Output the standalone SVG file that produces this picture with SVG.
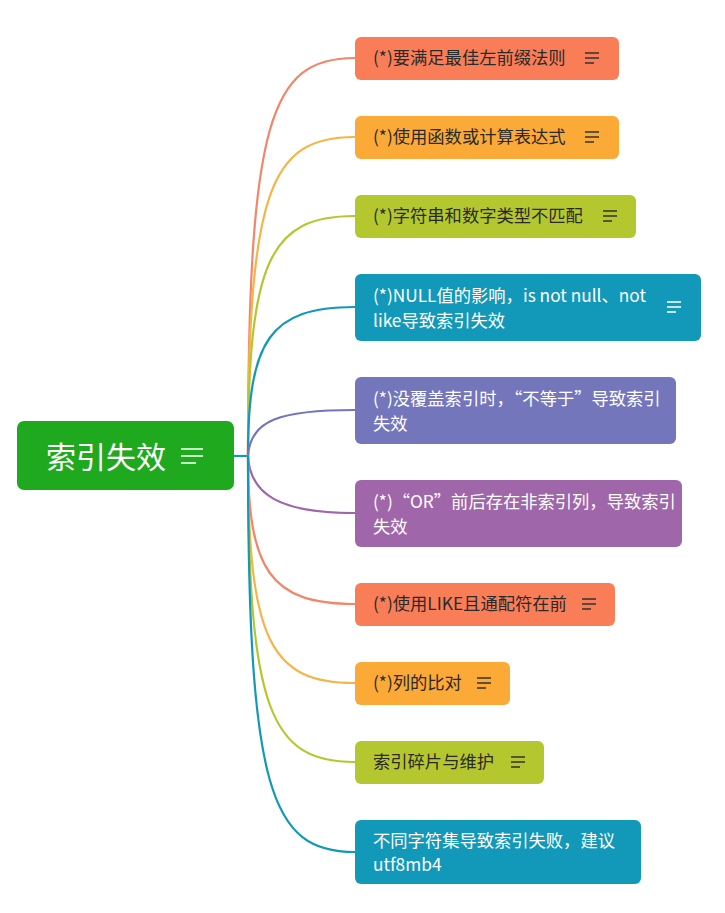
<svg xmlns="http://www.w3.org/2000/svg" width="725" height="913" viewBox="0 0 725 913">
<style>
.t{font-family:"Noto Sans CJK SC","Liberation Sans",sans-serif;font-size:17.3px;fill:#2a2a2a}
.w{fill:#ffffff}
.c{fill:none;stroke-width:2.2}
.m{stroke:#333;stroke-width:1.6;fill:none}
.mw{stroke:#fff;stroke-width:1.6;fill:none}
</style>
<rect width="725" height="913" fill="#fff"/>
<g id="connectors">
<path class="c" stroke="#1298B8" d="M234 456 H248"/>
<path class="c" stroke="#F0876A" d="M248 456 C248 120 270 58 355 58"/>
<path class="c" stroke="#F5B445" d="M248 456 C248 190 270 137 355 137"/>
<path class="c" stroke="#B5C72E" d="M248 456 C248 260 270 216 355 216"/>
<path class="c" stroke="#1298B8" d="M248 456 C248 340 270 307 355 307"/>
<path class="c" stroke="#7476BC" d="M248 456 C250 420 280 410 355 410"/>
<path class="c" stroke="#A066AA" d="M248 456 C250 495 280 513 355 513"/>
<path class="c" stroke="#F0876A" d="M248 456 C248 570 270 604 355 604"/>
<path class="c" stroke="#F5B445" d="M248 456 C248 640 270 683 355 683"/>
<path class="c" stroke="#B5C72E" d="M248 456 C248 710 270 762 355 762"/>
<path class="c" stroke="#1298B8" d="M248 456 C248 790 270 852 355 852"/>
</g>
<g id="root">
<rect x="17" y="421" width="217" height="69" rx="7" fill="#1FA91F"/>
<text x="46" y="468" style="font-family:'Noto Sans CJK SC',sans-serif;font-size:30px;fill:#fff">索引失效</text>
<path class="mw" d="M181 449 H203 M181 456 H203 M181 463 H196"/>
</g>
<g id="n1"><rect x="355" y="37" width="264" height="43" rx="6" fill="#F97E58"/><text class="t" x="373" y="64">(*)要满足最佳左前缀法则</text><path class="m" d="M585 53 H599 M585 58 H599 M585 63 H594"/></g>
<g id="n2"><rect x="355" y="116" width="264" height="43" rx="6" fill="#FBA937"/><text class="t" x="373" y="143">(*)使用函数或计算表达式</text><path class="m" d="M585 132 H599 M585 137 H599 M585 142 H594"/></g>
<g id="n3"><rect x="355" y="195" width="281" height="43" rx="6" fill="#B5C72E"/><text class="t" x="373" y="222">(*)字符串和数字类型不匹配</text><path class="m" d="M603 211 H617 M603 216 H617 M603 221 H612"/></g>
<g id="n4"><rect x="355" y="274" width="346" height="67" rx="6" fill="#1298B8"/><text class="t w" x="373" y="302">(*)NULL值的影响，is not null、not</text><text class="t w" x="373" y="327">like导致索引失效</text><path class="mw" d="M667 302 H681 M667 307 H681 M667 312 H676"/></g>
<g id="n5"><rect x="355" y="377" width="321" height="67" rx="6" fill="#7476BC"/><text class="t w" x="373" y="405">(*)没覆盖索引时，“不等于”导致索引</text><text class="t w" x="373" y="430">失效</text></g>
<g id="n6"><rect x="355" y="480" width="327" height="67" rx="6" fill="#A066AA"/><text class="t w" x="373" y="508">(*)“OR”前后存在非索引列，导致索引</text><text class="t w" x="373" y="533">失效</text></g>
<g id="n7"><rect x="355" y="583" width="260" height="43" rx="6" fill="#F97E58"/><text class="t" x="373" y="610">(*)使用LIKE且通配符在前</text><path class="m" d="M582 599 H596 M582 604 H596 M582 609 H591"/></g>
<g id="n8"><rect x="355" y="662" width="155" height="43" rx="6" fill="#FBA937"/><text class="t" x="373" y="689">(*)列的比对</text><path class="m" d="M477 678 H491 M477 683 H491 M477 688 H486"/></g>
<g id="n9"><rect x="355" y="741" width="189" height="43" rx="6" fill="#B5C72E"/><text class="t" x="373" y="768">索引碎片与维护</text><path class="m" d="M511 757 H525 M511 762 H525 M511 767 H520"/></g>
<g id="n10"><rect x="355" y="820" width="286" height="64" rx="6" fill="#1298B8"/><text class="t w" x="373" y="847">不同字符集导致索引失败，建议</text><text class="t w" x="373" y="871">utf8mb4</text></g>
</svg>
